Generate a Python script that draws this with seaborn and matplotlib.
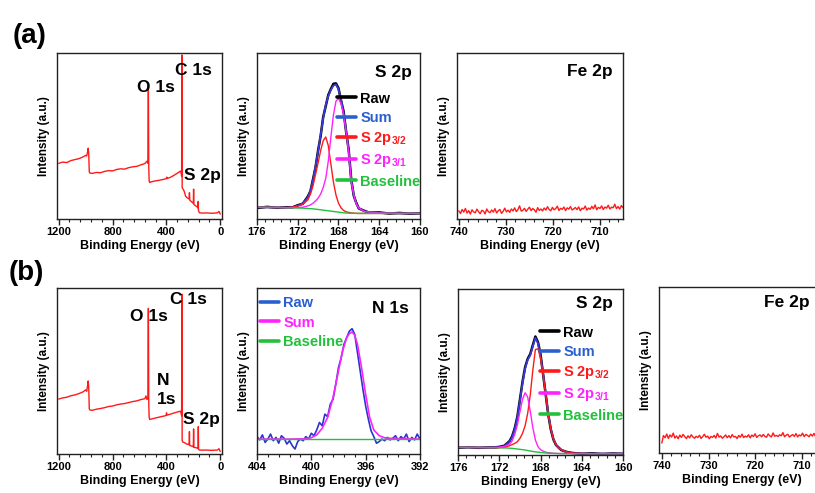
import numpy as np
import matplotlib
matplotlib.use("Agg")
import matplotlib.pyplot as plt
from matplotlib.lines import Line2D
from matplotlib.ticker import MultipleLocator, AutoMinorLocator
import seaborn as sns

# ---- survey spectra ----
survey_a_be = [1200, 1170, 1140, 1110, 1080, 1050, 1020, 1000, 992, 986,
               981, 977, 973, 968, 950, 920, 890, 860, 830, 800,
               770, 740, 710, 680, 650, 620, 590, 560, 545, 538,
               534, 531, 528, 524, 515, 490, 460, 430, 400, 397,
               394, 370, 340, 310, 296, 290, 287, 285, 283, 280,
               272, 265, 258, 250, 240, 231, 229, 226, 215, 204,
               200, 198, 196, 185, 172, 166, 164, 162, 155, 130,
               100, 70, 40, 20, 10, 5, 2, 0]
survey_a_int = [32.7, 33.5, 33.2, 34.4, 35.0, 35.6, 36.6, 37.6, 37.2, 39.5,
                42.0, 38.5, 27.5, 26.8, 26.6, 27.2, 27.0, 27.8, 28.3, 28.1,
                29.0, 29.4, 29.2, 30.1, 30.6, 30.9, 31.8, 32.6, 34.0, 32.8,
                79.5, 30.0, 22.0, 21.0, 21.4, 21.9, 22.3, 22.8, 23.4, 24.3,
                23.5, 24.2, 25.6, 27.2, 28.0, 27.0, 25.0, 98.8, 18.0, 17.4,
                16.5, 15.0, 12.8, 12.0, 11.4, 11.0, 14.8, 10.2, 9.4, 8.6,
                8.4, 17.0, 7.6, 7.0, 6.2, 5.6, 9.5, 4.0, 2.6, 2.4,
                2.5, 2.3, 2.4, 2.6, 3.4, 2.8, 2.0, 1.8]

survey_b_be = [1200, 1170, 1140, 1110, 1080, 1050, 1020, 1000, 992, 986,
               981, 977, 973, 968, 950, 920, 890, 860, 830, 800,
               770, 740, 710, 680, 650, 620, 590, 560, 552, 545,
               538, 534, 531, 528, 524, 500, 470, 440, 410, 402,
               399, 396, 370, 340, 310, 296, 290, 287, 285, 283,
               278, 265, 250, 235, 231, 229, 227, 215, 203, 200,
               198, 196, 180, 168, 165, 163, 161, 155, 130, 100,
               70, 40, 20, 10, 5, 2, 0]
survey_b_int = [33.1, 33.8, 34.2, 35.1, 35.6, 36.4, 37.4, 38.6, 37.8, 41.0,
                44.0, 40.0, 27.2, 26.5, 26.3, 27.0, 27.4, 27.9, 28.6, 28.9,
                29.6, 30.1, 30.4, 31.0, 31.6, 32.0, 32.8, 33.3, 35.0, 32.9,
                33.3, 87.8, 30.0, 22.0, 20.8, 21.3, 21.9, 22.5, 23.0, 23.3,
                24.8, 23.4, 24.0, 24.8, 25.5, 25.8, 24.5, 23.0, 96.2, 8.0,
                7.2, 6.8, 6.0, 5.8, 5.5, 13.5, 5.2, 4.8, 4.5, 4.4,
                15.1, 4.0, 3.8, 3.5, 3.4, 16.5, 2.8, 2.4, 2.3, 2.4,
                2.2, 2.3, 2.4, 3.2, 2.5, 1.8, 1.5]

# ---- S 2p high resolution ----
s2p_be = [176, 175, 174, 173, 172.5, 172, 171.5, 171, 170.75, 170.5,
          170.25, 170, 169.75, 169.5, 169.25, 169, 168.75, 168.5, 168.25, 168,
          167.75, 167.5, 167.25, 167, 166.75, 166.5, 166.25, 166,
          165.5, 165, 164, 163, 162, 161, 160]

s2p_a_raw = [5.5, 6.2, 5.6, 6.0, 5.9, 7.2, 8.1, 12.6, 15.8, 23.0,
             30.4, 40.6, 49.4, 61.0, 67.6, 74.4, 78.0, 81.2, 81.5, 78.6,
             71.0, 64.5, 52.0, 41.2, 23.0, 13.0, 8.6, 5.2,
             3.9, 2.7, 2.8, 2.1, 2.5, 2.0, 2.3]
s2p_a_sum = [5.9, 5.9, 5.8, 5.8, 6.1, 6.9, 8.4, 12.1, 16.3, 22.4,
             31.0, 39.9, 50.1, 60.3, 68.3, 73.7, 77.4, 80.1, 80.8, 77.9,
             71.8, 63.9, 52.8, 40.5, 22.2, 13.6, 8.1, 5.5,
             3.6, 3.0, 2.5, 2.3, 2.2, 2.2, 2.2]
s2p_a_32 = [5.9, 5.9, 5.8, 5.8, 6.0, 6.6, 7.8, 10.5, 14.0, 19.0,
            26.0, 33.0, 40.5, 46.5, 48.8, 43.5, 32.5, 21.5, 13.5, 8.5,
            5.6, 4.0, 3.2, 2.8, 2.5, 2.35, 2.25, 2.2,
            2.2, 2.2, 2.2, 2.2, 2.2, 2.2, 2.2]
s2p_a_31 = [5.9, 5.9, 5.8, 5.7, 5.7, 5.8, 6.0, 6.8, 7.4, 8.4,
            9.8, 11.5, 14.0, 18.0, 23.5, 34.0, 48.5, 62.0, 70.5, 72.4,
            69.0, 62.5, 52.0, 40.0, 22.0, 13.5, 8.0, 5.5,
            3.6, 3.0, 2.5, 2.3, 2.2, 2.2, 2.2]
s2p_a_base = [5.9, 5.9, 5.8, 5.7, 5.6, 5.5, 5.4, 5.2, 5.1, 5.0,
              4.8, 4.6, 4.4, 4.2, 4.0, 3.8, 3.6, 3.4, 3.2, 3.0,
              2.8, 2.6, 2.45, 2.35, 2.3, 2.25, 2.2, 2.2,
              2.2, 2.2, 2.2, 2.2, 2.2, 2.2, 2.2]

s2p_b_raw = [4.4, 4.7, 4.3, 4.6, 4.5, 4.9, 5.6, 8.4, 11.3, 16.2,
             23.0, 33.4, 44.0, 52.8, 57.9, 60.8, 66.2, 71.4, 68.0, 60.6,
             48.5, 36.4, 24.2, 15.2, 9.3, 6.0, 4.5, 3.0,
             1.9, 1.3, 0.7, 1.0, 0.6, 0.9, 0.7]
s2p_b_sum = [4.6, 4.6, 4.5, 4.5, 4.5, 4.7, 5.4, 8.0, 10.8, 15.7,
             22.4, 32.6, 43.3, 52.0, 57.3, 60.1, 65.4, 70.6, 67.3, 60.0,
             49.0, 37.0, 24.8, 15.7, 9.6, 6.25, 4.3, 3.2,
             1.8, 1.2, 0.9, 0.8, 0.8, 0.8, 0.8]
s2p_b_32 = [4.6, 4.6, 4.5, 4.5, 4.4, 4.4, 4.5, 5.6, 6.3, 7.0,
            8.0, 10.0, 13.0, 17.5, 25.0, 36.0, 51.0, 63.5, 64.0, 58.3,
            48.0, 36.5, 24.5, 15.5, 9.5, 6.2, 4.3, 3.2,
            1.8, 1.2, 0.9, 0.8, 0.8, 0.8, 0.8]
s2p_b_31 = [4.6, 4.6, 4.5, 4.5, 4.5, 4.7, 5.2, 6.5, 8.5, 12.5,
            18.0, 26.0, 33.5, 37.5, 35.0, 26.5, 16.5, 9.0, 5.0, 3.2,
            2.3, 1.7, 1.4, 1.2, 1.05, 0.95, 0.9, 0.85,
            0.85, 0.8, 0.8, 0.8, 0.8, 0.8, 0.8]
s2p_b_base = [4.6, 4.6, 4.5, 4.5, 4.4, 4.4, 4.3, 4.1, 4.0, 3.8,
              3.6, 3.4, 3.2, 3.0, 2.7, 2.4, 2.1, 1.9, 1.7, 1.5,
              1.35, 1.2, 1.1, 1.0, 0.95, 0.9, 0.9, 0.85,
              0.85, 0.8, 0.8, 0.8, 0.8, 0.8, 0.8]

# ---- N 1s ----
n1s_raw = [10.5, 8.5, 11.5, 7.0, 9.0, 12.0, 8.0, 10.0, 6.5, 11.0,
           9.5, 6.0, 8.0, 5.0, 3.0, 7.5, 9.0, 8.0, 10.5, 9.0,
           12.5, 11.0, 14.5, 19.0, 17.0, 24.0, 22.5, 30.0, 33.0, 42.0,
           52.0, 58.0, 66.0, 70.0, 74.0, 75.5, 72.0, 61.0, 50.0, 39.0,
           29.0, 21.0, 14.0, 10.5, 6.5, 7.5, 9.0, 8.0, 10.0, 8.5,
           9.5, 11.0, 8.0, 10.5, 9.0, 12.0, 7.5, 10.0, 8.5, 12.0,
           9.0]
n1s_fit_be = [404, 401.5, 400.5, 400, 399.6, 399.2, 398.8, 398.4, 398.0, 397.7,
              397.4, 397.2, 397.0, 396.8, 396.6, 396.3, 396.0, 395.7, 395.4, 395.0,
              394.6, 394.0, 392]
n1s_sum = [9.0, 9.0, 9.2, 9.8, 11.5, 15.5, 22.0, 34.0, 50.0, 62.0,
           70.0, 72.5, 73.5, 71.5, 66.0, 52.0, 36.0, 22.0, 14.5, 11.0,
           9.8, 9.3, 9.0]
n1s_base_be = [404, 392]
n1s_base = [9.0, 9.0]

# ---- Fe 2p (no signal) ----
fe_a_int = [3.8, 2.1, 4.6, 3.0, 5.2, 2.4, 3.9, 1.8, 4.4, 3.1, 2.6,
            4.8, 3.3, 2.0, 4.1, 3.6, 1.9, 4.9, 3.2, 2.7, 4.3,
            3.0, 5.1, 2.5, 3.8, 4.6, 2.2, 3.5, 5.4, 3.1, 4.2,
            2.8, 4.9, 3.7, 5.6, 3.3, 4.5, 6.8, 3.6, 4.1, 5.3,
            3.4, 4.8, 6.0, 3.9, 5.2, 4.4, 2.9, 5.7, 4.0, 4.9,
            3.7, 5.5, 4.2, 6.3, 4.6, 3.8, 5.9, 4.4, 5.1, 6.6,
            4.0, 5.3, 4.7, 6.1, 3.9, 5.6, 4.8, 6.4, 4.3, 5.0,
            5.8, 4.5, 6.2, 3.8, 5.4, 4.9, 6.7, 4.2, 5.5, 4.7,
            6.5, 5.0, 7.4, 4.4, 5.9, 5.2, 6.8, 4.6, 6.1, 5.4,
            7.2, 4.9, 6.0, 5.6, 7.8, 5.1, 6.4, 4.8, 7.0, 5.7]
fe_b_int = [6.0, 10.5, 9.2, 11.4, 8.8, 10.9, 9.6, 12.0, 9.0, 10.3, 8.6,
            10.8, 9.4, 11.2, 9.9, 8.7, 10.4, 9.1, 11.0, 9.7, 8.9,
            10.1, 9.3, 10.7, 8.8, 9.9, 11.3, 9.5, 10.2, 8.6, 10.0,
            9.4, 10.6, 9.0, 11.8, 9.6, 10.3, 8.9, 9.8, 10.9, 9.2,
            10.5, 9.1, 11.1, 9.7, 10.0, 8.7, 10.6, 9.5, 11.4, 9.3,
            10.2, 9.6, 11.0, 9.1, 10.8, 9.9, 11.6, 9.4, 10.4, 10.9,
            9.8, 11.2, 10.0, 9.5, 11.5, 10.3, 9.7, 12.1, 10.1, 10.6,
            9.9, 11.0, 10.4, 12.3, 9.8, 10.7, 11.3, 9.6, 10.5, 11.1,
            10.0, 11.7, 9.7, 10.9, 10.3, 12.0, 9.9, 11.2, 10.6, 9.8,
            11.4, 10.2, 11.8, 9.9, 10.7, 11.1, 10.0, 12.2, 10.4, 11.0]

RED = "#ff1a1a"
MAG = "#ff22ff"
GRN = "#22c03c"
BLU = "#2a5fd0"

sns.set_style("ticks")
plt.rcParams["font.family"] = ["Liberation Sans", "DejaVu Sans"]
plt.rcParams["font.weight"] = "bold"
plt.rcParams["text.color"] = "black"
plt.rcParams["axes.labelcolor"] = "black"
plt.rcParams["xtick.labelcolor"] = "black"
plt.rcParams["mathtext.fontset"] = "custom"
plt.rcParams["mathtext.rm"] = "Liberation Sans:bold"
plt.rcParams["mathtext.bf"] = "Liberation Sans:bold"

fig = plt.figure(figsize=(8.15, 4.93), dpi=100)


def style(ax, xlim, major, ylim):
    ax.set_xlim(*xlim)
    ax.set_ylim(*ylim)
    ax.xaxis.set_major_locator(MultipleLocator(major))
    ax.xaxis.set_minor_locator(AutoMinorLocator(5))
    ax.ticklabel_format(axis="x", useOffset=False)
    ax.set_yticks([])
    ax.tick_params(axis="x", which="major", direction="out", length=4, width=1,
                   labelsize=8, pad=2, color="#222222", labelcolor="black")
    ax.tick_params(axis="x", which="minor", direction="out", length=2, width=0.8,
                   color="#222222")
    ax.set_xlabel("Binding Energy (eV)", fontsize=9, fontweight="bold", labelpad=2,
                  color="black")
    ax.set_ylabel("Intensity (a.u.)", fontsize=8.5, fontweight="bold", labelpad=5,
                  color="black")
    for s in ax.spines.values():
        s.set_linewidth(1)
        s.set_color("#222222")


def line(ax, x, y, color, lw):
    sns.lineplot(x=x, y=y, ax=ax, color=color, lw=lw, sort=False, estimator=None)


def comp_legend(ax, labels, colors, text_colors, anchor):
    handles = [Line2D([], [], color=c, lw=2.6) for c in colors]
    ax.legend(handles, labels, loc="upper left", bbox_to_anchor=anchor, frameon=False,
              prop={"weight": "bold", "size": 10.5}, handlelength=1.3, handletextpad=0.3,
              labelspacing=0.36, borderpad=0, borderaxespad=0, labelcolor=text_colors)


def title(ax, text, x, y):
    ax.text(x, y, text, transform=ax.transAxes, ha="right", va="center",
            fontsize=12.5, fontweight="bold", color="black")


def note(ax, x, y, text, **kw):
    ax.text(x, y, text, ha="left", va="center", fontsize=12.5, fontweight="bold",
            color="black", **kw)


s2p_labels = ["Raw", "Sum", r"S 2p$_{\mathbf{3/2}}$", r"S 2p$_{\mathbf{3/1}}$", "Baseline"]
s2p_colors = ["black", BLU, RED, MAG, GRN]

# ---------------- row (a) ----------------
ax = fig.add_axes([0.0699, 0.5558, 0.2025, 0.3367])
line(ax, survey_a_be, survey_a_int, RED, 1.0)
style(ax, (1213, -13), 400, (-1.2, 100))
note(ax, 619, 78.7, "O 1s")
note(ax, 337, 89.6, "C 1s")
note(ax, 270, 25.6, "S 2p")

ax = fig.add_axes([0.3153, 0.5558, 0.2, 0.3367])
line(ax, s2p_be, s2p_a_raw, "black", 1.8)
line(ax, s2p_be, s2p_a_sum, "#3a3ad8", 1.3)
line(ax, s2p_be, s2p_a_32, RED, 1.0)
line(ax, s2p_be, s2p_a_31, MAG, 1.0)
line(ax, s2p_be, s2p_a_base, GRN, 1.0)
style(ax, (176, 160), 4, (-1.2, 100))
title(ax, "S 2p", 0.951, 0.882)
comp_legend(ax, s2p_labels, s2p_colors, s2p_colors, (0.49, 0.768))

ax = fig.add_axes([0.5607, 0.5558, 0.2037, 0.3367])
line(ax, np.linspace(740, 705, len(fe_a_int)), fe_a_int, RED, 1.0)
style(ax, (740.4, 705), 10, (-1.2, 100))
title(ax, "Fe 2p", 0.938, 0.89)

# ---------------- row (b) ----------------
ax = fig.add_axes([0.0699, 0.0791, 0.2025, 0.3367])
line(ax, survey_b_be, survey_b_int, RED, 1.0)
style(ax, (1213, -13), 400, (0, 100))
note(ax, 671, 82.7, "O 1s")
note(ax, 374, 92.8, "C 1s")
note(ax, 471, 38.6, "N\n1s", linespacing=1.3)
note(ax, 278, 20.5, "S 2p")

ax = fig.add_axes([0.3153, 0.0791, 0.2, 0.3367])
line(ax, np.linspace(404, 392, len(n1s_raw)), n1s_raw, "#2a35d0", 1.2)
line(ax, n1s_fit_be, n1s_sum, MAG, 1.2)
line(ax, n1s_base_be, n1s_base, GRN, 1.0)
style(ax, (404, 392), 4, (0, 100))
title(ax, "N 1s", 0.933, 0.878)
comp_legend(ax, ["Raw", "Sum", "Baseline"], [BLU, MAG, GRN], [BLU, MAG, GRN],
            (0.018, 0.95))

ax = fig.add_axes([0.562, 0.0771, 0.2025, 0.3367])
line(ax, s2p_be, s2p_b_raw, "black", 1.8)
line(ax, s2p_be, s2p_b_sum, "#3a3ad8", 1.3)
line(ax, s2p_be, s2p_b_32, RED, 1.0)
line(ax, s2p_be, s2p_b_31, MAG, 1.0)
line(ax, s2p_be, s2p_b_base, GRN, 1.0)
style(ax, (176, 160), 4, (0, 100))
title(ax, "S 2p", 0.939, 0.91)
comp_legend(ax, s2p_labels, s2p_colors, s2p_colors, (0.497, 0.78))

ax = fig.add_axes([0.8086, 0.0811, 0.2042, 0.3367])
line(ax, np.linspace(740, 705, len(fe_b_int)), fe_b_int, RED, 1.0)
style(ax, (740.6, 705), 10, (0, 100))
title(ax, "Fe 2p", 0.907, 0.904)

fig.text(0.016, 0.927, "(a)", fontsize=20, fontweight="bold", va="center", ha="left",
         color="black")
fig.text(0.010, 0.446, "(b)", fontsize=20, fontweight="bold", va="center", ha="left",
         color="black")

fig.savefig("out.png", dpi=100)
